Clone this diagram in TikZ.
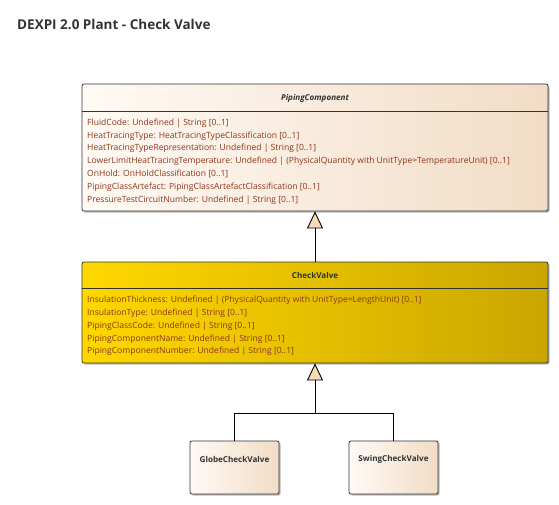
\documentclass[tikz,border=0pt]{standalone}
\usepackage{fontspec}
\setmainfont{Open Sans}
\usepackage{tikz}
\usetikzlibrary{arrows.meta, positioning, shadows}
\definecolor{AbstractLight}{HTML}{FFFAF5}
\definecolor{AbstractDark}{HTML}{F2DCC6}
\definecolor{FocusLight}{HTML}{FFD800}
\definecolor{FocusDark}{HTML}{C9A600}
\definecolor{AttrText}{HTML}{8E3518}
\definecolor{TitleGray}{HTML}{333333}
\definecolor{Tan}{HTML}{F8DBB4}

\begin{document}
\begin{tikzpicture}[
    x=1pt, y=-1pt,
    every node/.style={font=\fontsize{8.55}{12.8}\selectfont, inner sep=0pt},
    classbox/.style={rectangle, draw=black!80, line width=0.8pt, rounded corners=2pt, minimum width=466pt,
        drop shadow={shadow xshift=1.6pt, shadow yshift=-1.6pt, fill=black!35, opacity=0.8}},
    plain/.style={classbox, left color=AbstractLight, right color=AbstractDark},
    focus/.style={classbox, left color=FocusLight, right color=FocusDark},
    leaf/.style={plain, minimum width=89pt, minimum height=53pt},
    classname/.style={font=\fontsize{8.1}{9}\selectfont\bfseries, text=TitleGray},
    attrs/.style={anchor=north west, align=left, text=AttrText},
    gen/.style={-{Triangle[length=17pt, width=16pt, fill=Tan]}, draw=black, line width=0.9pt}
]
\useasboundingbox (0,0) rectangle (559,505);

% Title
\node[anchor=base west, font=\fontsize{13.5}{15}\selectfont\bfseries, text=TitleGray] (title) at (17,29.5)
    {DEXPI 2.0 Plant - Check Valve};

% PipingComponent
\node[plain, minimum height=127pt] (PC) at (315,147.5) {};
\draw[black!80, line width=0.6pt] (PC.west |- 0,111) -- (PC.east |- 0,111);
\node[classname, font=\fontsize{8.1}{9}\selectfont\bfseries\itshape] (PCname) at (315,98) {PipingComponent};
\node[attrs] (PCattrs) at (87,118.5) {%
FluidCode: Undefined | String [0..1]\\
HeatTracingType: HeatTracingTypeClassification [0..1]\\
HeatTracingTypeRepresentation: Undefined | String [0..1]\\
LowerLimitHeatTracingTemperature: Undefined | (PhysicalQuantity with UnitType=TemperatureUnit) [0..1]\\
OnHold: OnHoldClassification [0..1]\\
PipingClassArtefact: PipingClassArtefactClassification [0..1]\\
PressureTestCircuitNumber: Undefined | String [0..1]};

% CheckValve
\node[focus, minimum height=101pt] (CV) at (315,312.5) {};
\draw[black!80, line width=0.6pt] (CV.west |- 0,288) -- (CV.east |- 0,288);
\node[classname] (CVname) at (315,275) {CheckValve};
\node[attrs] (CVattrs) at (87,296) {%
InsulationThickness: Undefined | (PhysicalQuantity with UnitType=LengthUnit) [0..1]\\
InsulationType: Undefined | String [0..1]\\
PipingClassCode: Undefined | String [0..1]\\
PipingComponentName: Undefined | String [0..1]\\
PipingComponentNumber: Undefined | String [0..1]};

% Subtypes
\node[leaf] (GCV) at (234.5,467.5) {};
\node[classname] at (234.5,459) {GlobeCheckValve};
\node[leaf] (SCV) at (393.5,467.5) {};
\node[classname] at (393.5,459) {SwingCheckValve};

% Generalizations
\coordinate (joint) at (315,413);
\draw[gen] (CV.north) -- (PC.south);
\draw[gen] (GCV.north) |- (joint) -- (CV.south);
\draw[black, line width=0.9pt] (SCV.north) |- (joint);

\end{tikzpicture}
\end{document}
